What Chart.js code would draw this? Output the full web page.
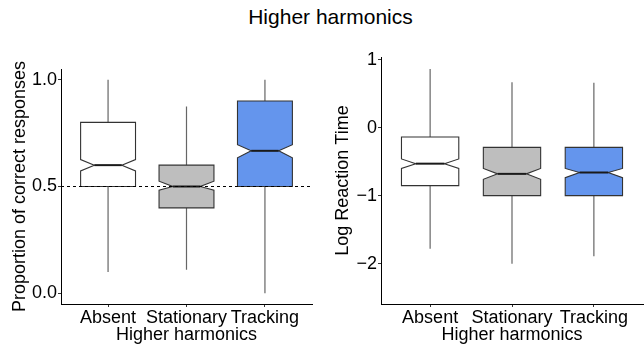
<!DOCTYPE html>
<html>
<head>
<meta charset="utf-8">
<script src="https://cdn.jsdelivr.net/npm/chart.js@4/dist/chart.umd.min.js"></script>
<style>
  html, body { margin: 0; padding: 0; background: #fff; }
  body { width: 644px; height: 346px; position: relative; overflow: hidden; font-family: "Liberation Sans", Arial, sans-serif; }
  #title { position: absolute; left: 0; top: 5px; width: 661px; text-align: center; font-size: 21px; line-height: 24px; color: #000; }
  #c1 { position: absolute; left: 0; top: 35px; }
  #c2 { position: absolute; left: 322px; top: 35px; }
</style>
</head>
<body>
<div id="title">Higher harmonics</div>
<canvas id="c1" width="322" height="311"></canvas>
<canvas id="c2" width="322" height="311"></canvas>
<script>
// ---- data ----
const categories = ["Absent", "Stationary", "Tracking"];
const xTitle = "Higher harmonics";

const accWhiskerLow  = [0.10, 0.11, 0.00];
const accQ1          = [0.50, 0.40, 0.50];
const accMedian      = [0.60, 0.50, 0.667];
const accQ3          = [0.80, 0.60, 0.90];
const accWhiskerHigh = [1.00, 0.875, 1.00];
const accNotchLow    = [0.573, 0.483, 0.634];
const accNotchHigh   = [0.626, 0.525, 0.696];
const accTicks       = [0.0, 0.5, 1.0];
const accChance      = 0.5;

const rtWhiskerLow   = [-1.78, -2.00, -1.89];
const rtQ1           = [-0.853, -1.00, -1.00];
const rtMedian       = [-0.53, -0.68, -0.66];
const rtQ3           = [-0.137, -0.29, -0.29];
const rtWhiskerHigh  = [0.863, 0.667, 0.66];
const rtNotchLow     = [-0.60, -0.76, -0.735];
const rtNotchHigh    = [-0.46, -0.60, -0.60];
const rtTicks        = [-2, -1, 0, 1];

const fills = ["#FFFFFF", "#BEBEBE", "#6495ED"];

// ---- drawing ----
const FONT = "'Liberation Sans', Arial, sans-serif";

function boxPlugin(stats, refLine) {
  return {
    id: 'notchedBoxes',
    afterDatasetsDraw(chart) {
      const ctx = chart.ctx;
      const xs = chart.scales.x, ys = chart.scales.y;
      const area = chart.chartArea;
      ctx.save();
      for (let i = 0; i < categories.length; i++) {
        const x = xs.getPixelForValue(i + 1);
        const hw = xs.getPixelForValue(i + 1.35) - x;
        const yLo = ys.getPixelForValue(stats.lo[i]);
        const yQ1 = ys.getPixelForValue(stats.q1[i]);
        const yMed = ys.getPixelForValue(stats.med[i]);
        const yQ3 = ys.getPixelForValue(stats.q3[i]);
        const yHi = ys.getPixelForValue(stats.hi[i]);
        const yNl = ys.getPixelForValue(stats.nlo[i]);
        const yNh = ys.getPixelForValue(stats.nhi[i]);
        // whiskers
        ctx.strokeStyle = '#666666';
        ctx.lineWidth = 1.2;
        ctx.beginPath();
        ctx.moveTo(x, yHi); ctx.lineTo(x, yQ3);
        ctx.moveTo(x, yQ1); ctx.lineTo(x, yLo);
        ctx.stroke();
        // notched box
        ctx.beginPath();
        ctx.moveTo(x - hw, yQ3);
        ctx.lineTo(x + hw, yQ3);
        ctx.lineTo(x + hw, yNh);
        ctx.lineTo(x + hw * 0.5, yMed);
        ctx.lineTo(x + hw, yNl);
        ctx.lineTo(x + hw, yQ1);
        ctx.lineTo(x - hw, yQ1);
        ctx.lineTo(x - hw, yNl);
        ctx.lineTo(x - hw * 0.5, yMed);
        ctx.lineTo(x - hw, yNh);
        ctx.closePath();
        ctx.fillStyle = fills[i];
        ctx.fill();
        ctx.strokeStyle = '#333333';
        ctx.lineWidth = 1.1;
        ctx.stroke();
        // median
        ctx.beginPath();
        ctx.moveTo(x - hw * 0.5, yMed);
        ctx.lineTo(x + hw * 0.5, yMed);
        ctx.strokeStyle = '#1a1a1a';
        ctx.lineWidth = 2;
        ctx.stroke();
      }
      if (refLine !== null) {
        const yr = ys.getPixelForValue(refLine);
        ctx.beginPath();
        ctx.setLineDash([3, 3]);
        ctx.moveTo(area.left, yr);
        ctx.lineTo(area.right, yr);
        ctx.strokeStyle = '#000';
        ctx.lineWidth = 1;
        ctx.stroke();
        ctx.setLineDash([]);
      }
      ctx.restore();
    }
  };
}

function makeChart(id, stats, opts) {
  return new Chart(document.getElementById(id), {
    type: 'scatter',
    data: {
      datasets: [{
        data: stats.med.map((m, i) => ({ x: i + 1, y: m })),
        pointRadius: 0,
        showLine: false
      }]
    },
    options: {
      responsive: false,
      animation: false,
      events: [],
      layout: { padding: { left: 0, right: opts.padRight, top: opts.padTop, bottom: 0 } },
      plugins: { legend: { display: false }, tooltip: { enabled: false }, title: { display: false } },
      scales: {
        x: {
          type: 'linear',
          min: 0.4, max: 3.6,
          afterBuildTicks: s => { s.ticks = categories.map((c, i) => ({ value: i + 1 })); },
          afterFit: s => { s.height = 42; },
          ticks: {
            callback: v => categories[v - 1],
            font: { family: FONT, size: 18 },
            color: '#000',
            padding: 0,
            maxRotation: 0,
            autoSkip: false
          },
          grid: { display: true, drawOnChartArea: false, drawTicks: true, tickLength: 3, color: '#333' },
          border: { display: true, color: '#000', width: 1 },
          title: {
            display: true, text: xTitle,
            font: { family: FONT, size: 18 }, color: '#000',
            padding: { top: -6, bottom: 0 }
          }
        },
        y: {
          min: opts.yMin, max: opts.yMax,
          afterBuildTicks: s => { s.ticks = opts.ticks.map(v => ({ value: v })); },
          afterFit: s => { s.width = opts.yWidth; },
          ticks: {
            callback: opts.fmt,
            font: { family: FONT, size: 18 },
            color: '#000',
            padding: 1
          },
          grid: { display: true, drawOnChartArea: false, drawTicks: true, tickLength: 3, color: '#333' },
          border: { display: true, color: '#000', width: 1 },
          title: {
            display: true, text: opts.yTitle,
            font: { family: FONT, size: 18 }, color: '#000',
            padding: { top: opts.yTitlePad, bottom: 0 }
          }
        }
      }
    },
    plugins: [boxPlugin(stats, opts.ref)]
  });
}

makeChart('c1', {
  lo: accWhiskerLow, q1: accQ1, med: accMedian, q3: accQ3, hi: accWhiskerHigh,
  nlo: accNotchLow, nhi: accNotchHigh
}, {
  yMin: -0.05, yMax: 1.05, ticks: accTicks,
  fmt: v => v.toFixed(1),
  yTitle: 'Proportion of correct responses',
  yWidth: 61, padRight: 10, padTop: 34, yTitlePad: 9, ref: accChance
});

makeChart('c2', {
  lo: rtWhiskerLow, q1: rtQ1, med: rtMedian, q3: rtQ3, hi: rtWhiskerHigh,
  nlo: rtNotchLow, nhi: rtNotchHigh
}, {
  yMin: -2.593, yMax: 1.038, ticks: rtTicks,
  fmt: v => (v < 0 ? '\u2212' + Math.abs(v) : String(v)),
  yTitle: 'Log Reaction Time',
  yWidth: 59, padRight: 1, padTop: 22, yTitlePad: 10, ref: null
});
</script>
</body>
</html>
